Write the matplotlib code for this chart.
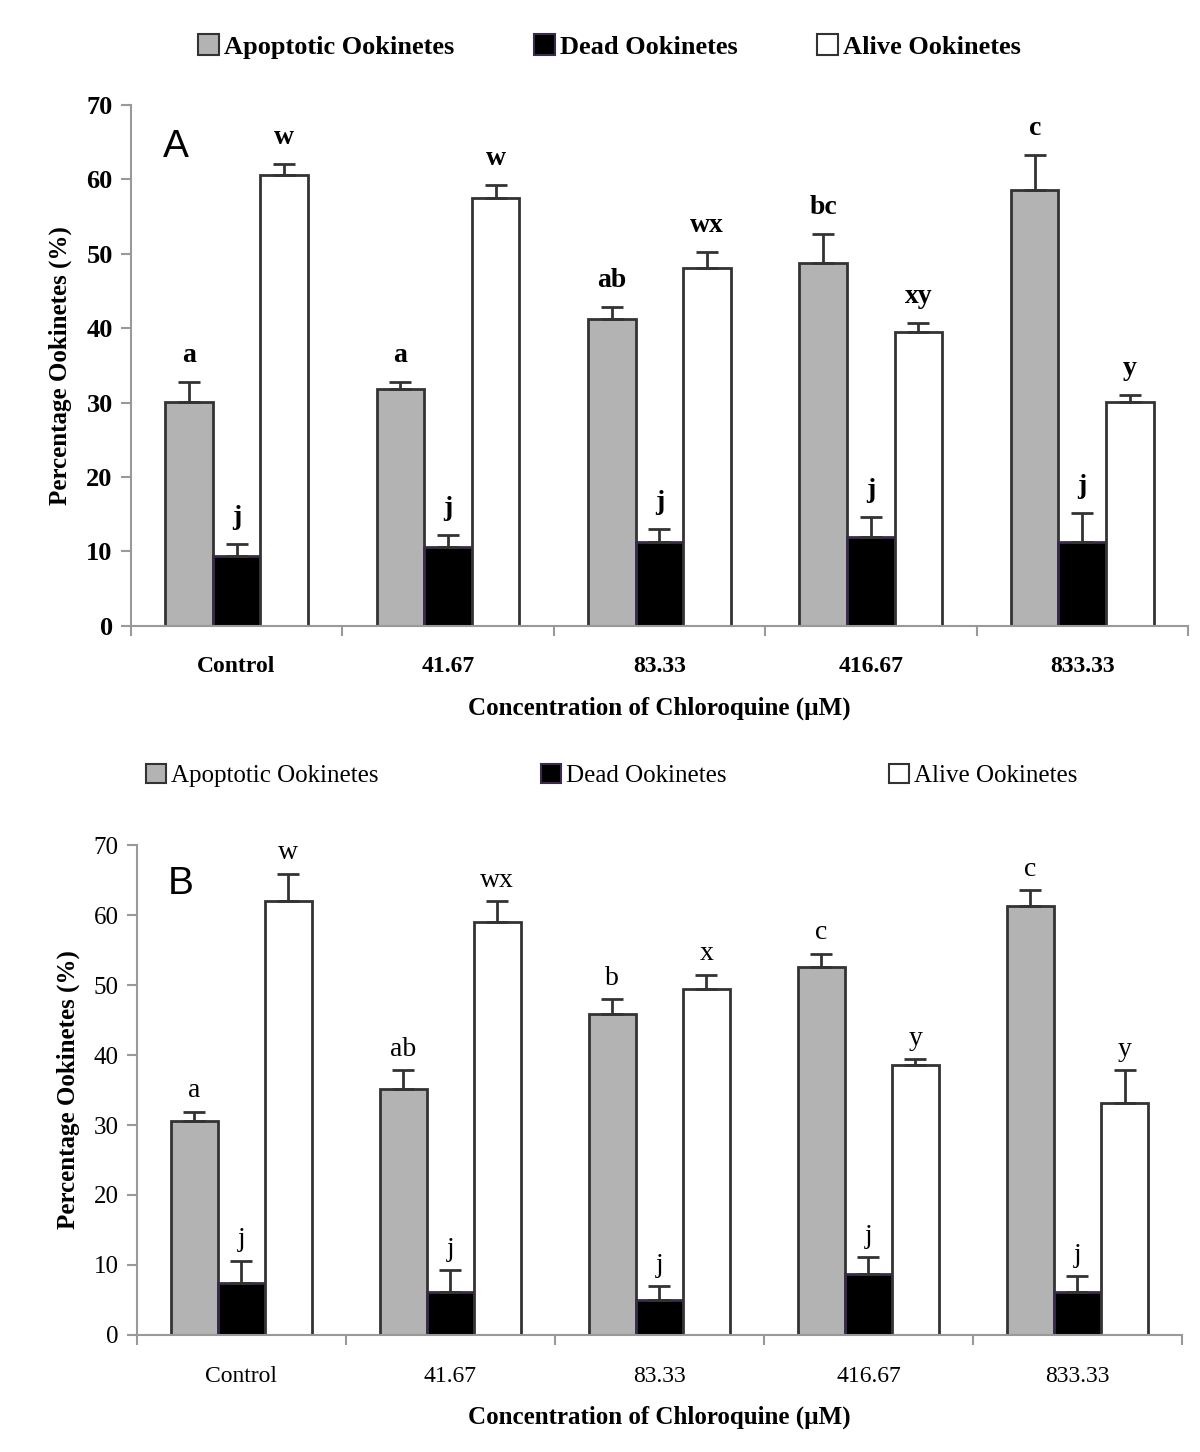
import matplotlib.pyplot as plt
import numpy as np
from matplotlib.patches import Patch

plt.rcParams['font.family'] = ['Liberation Serif', 'DejaVu Serif']

categories = ['Control', '41.67', '83.33', '416.67', '833.33']
series = ['Apoptotic Ookinetes', 'Dead Ookinetes', 'Alive Ookinetes']

# Панель A: средние и верхние ошибки
a_apop = [30.1, 31.8, 41.2, 48.8, 58.6]
a_apop_err = [2.7, 1.0, 1.7, 3.9, 4.7]
a_dead = [9.4, 10.6, 11.2, 12.0, 11.2]
a_dead_err = [1.6, 1.6, 1.8, 2.6, 4.0]
a_alive = [60.6, 57.5, 48.1, 39.5, 30.1]
a_alive_err = [1.5, 1.8, 2.1, 1.2, 0.9]
a_letters = [['a', 'a', 'ab', 'bc', 'c'],
             ['j', 'j', 'j', 'j', 'j'],
             ['w', 'w', 'wx', 'xy', 'y']]

# Панель B
b_apop = [30.6, 35.1, 45.8, 52.6, 61.3]
b_apop_err = [1.3, 2.7, 2.2, 1.9, 2.3]
b_dead = [7.4, 6.2, 5.0, 8.7, 6.2]
b_dead_err = [3.2, 3.1, 2.0, 2.4, 2.2]
b_alive = [62.0, 59.0, 49.4, 38.6, 33.1]
b_alive_err = [3.9, 3.0, 2.1, 0.8, 4.7]
b_letters = [['a', 'ab', 'b', 'c', 'c'],
             ['j', 'j', 'j', 'j', 'j'],
             ['w', 'wx', 'x', 'y', 'y']]

colors = ['#b3b3b3', '#000000', '#ffffff']
edges = ['#333333', '#3b2b4b', '#333333']

fig = plt.figure(figsize=(12, 14.52), dpi=100)


def panel(rect, vals, errs, letters, tag, bold, lbl_gap, ysize):
    ax = fig.add_axes(rect)
    x = np.arange(len(categories))
    w = 0.225
    for i in range(3):
        ax.bar(x + (i - 1) * w, vals[i], w, color=colors[i], edgecolor=edges[i],
               linewidth=2, zorder=2)
        ax.errorbar(x + (i - 1) * w, vals[i], yerr=[np.zeros(5), errs[i]], fmt='none',
                    ecolor='#333333', elinewidth=2, capsize=8, capthick=2, zorder=3)
        for k in range(5):
            ax.annotate(letters[i][k], (x[k] + (i - 1) * w, vals[i][k] + errs[i][k]),
                        xytext=(0, lbl_gap), textcoords='offset points',
                        ha='center', va='bottom', fontsize=20,
                        fontweight='bold' if bold else 'normal')
    ax.set_xlim(-0.5, 4.5)
    ax.set_ylim(0, 70)
    ax.set_yticks(range(0, 71, 10))
    ax.set_xticks(x)
    ax.set_xticklabels(categories, fontsize=17, fontweight='bold' if bold else 'normal')
    ax.set_xticks(np.arange(-0.5, 4.6, 1), minor=True)
    ax.tick_params(axis='x', which='major', length=0, pad=22)
    ax.tick_params(axis='x', which='minor', length=7, color='#999999', width=1.5)
    ax.tick_params(axis='y', length=7, color='#999999', width=1.5, labelsize=ysize, pad=6)
    for t in ax.get_yticklabels():
        t.set_fontweight('bold' if bold else 'normal')
    for s in ['top', 'right']:
        ax.spines[s].set_visible(False)
    for s in ['left', 'bottom']:
        ax.spines[s].set_color('#999999')
        ax.spines[s].set_linewidth(1.5)
    ax.set_xlabel('Concentration of Chloroquine (µM)', fontsize=18, fontweight='bold', labelpad=14)
    ax.set_ylabel('Percentage Ookinetes (%)', fontsize=18, fontweight='bold', labelpad=10)
    ax.text(0.03, 0.92, tag, transform=ax.transAxes, fontsize=28,
            family='Liberation Sans', va='center', ha='left')
    return ax


panel([0.109, 0.569, 0.881, 0.3587], [a_apop, a_dead, a_alive],
      [a_apop_err, a_dead_err, a_alive_err], a_letters, 'A', True, 10, 19)
panel([0.114, 0.0806, 0.871, 0.3374], [b_apop, b_dead, b_alive],
      [b_apop_err, b_dead_err, b_alive_err], b_letters, 'B', False, 6, 18)

handles = [Patch(facecolor=colors[i], edgecolor=edges[i], linewidth=1.5) for i in range(3)]
fig.legend(handles, series, loc='center', bbox_to_anchor=(0.508, 0.968), ncol=3,
           frameon=False, handlelength=0.8, handleheight=0.8,
           handletextpad=0.2, columnspacing=3.0, prop={'weight': 'bold', 'size': 19})
fig.legend(handles, series, loc='center', bbox_to_anchor=(0.51, 0.466), ncol=3,
           frameon=False, fontsize=18, handlelength=0.8, handleheight=0.8,
           handletextpad=0.2, columnspacing=6.5)

fig.savefig('out.png', dpi=100)
